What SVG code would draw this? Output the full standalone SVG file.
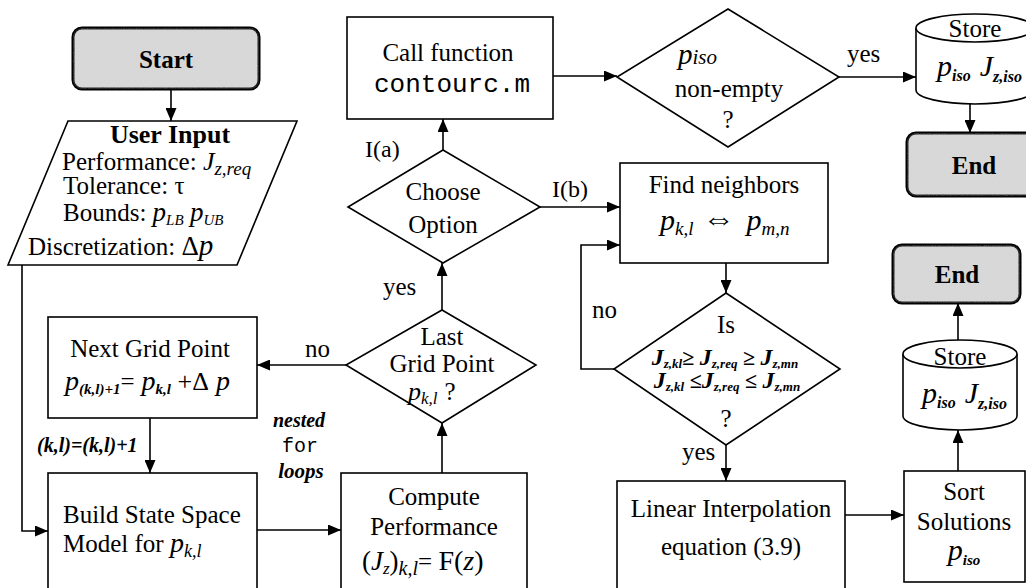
<svg xmlns="http://www.w3.org/2000/svg" width="1026" height="588" viewBox="0 0 1026 588" font-size="25">
  <defs>
    <marker id="arr" viewBox="0 0 13 11" refX="13" refY="5.5" markerWidth="13" markerHeight="11" markerUnits="userSpaceOnUse" orient="auto">
      <path d="M0,0 L13,5.5 L0,11 z" fill="#000"/>
    </marker>
    <filter id="grain" x="0" y="0" width="100%" height="100%">
      <feTurbulence type="fractalNoise" baseFrequency="0.9" numOctaves="2" seed="3" result="n"/>
      <feColorMatrix in="n" type="matrix" values="0 0 0 0 0.78  0 0 0 0 0.78  0 0 0 0 0.78  0 0 0 0.35 0" result="g"/>
      <feComposite in="g" in2="SourceGraphic" operator="in"/>
    </filter>
  </defs>
  <style>
    .box { fill: #fff; stroke: #000; stroke-width: 1.6; }
    .term { fill: #d5d5d5; stroke: #000; stroke-width: 3; }
    .edge { fill: none; stroke: #000; stroke-width: 1.6; marker-end: url(#arr); }
    .t { font-family: "Liberation Serif", "Times New Roman", serif; fill: #000; }
    .c { text-anchor: middle; }
    .b { font-weight: bold; }
    .i { font-style: italic; }
    .bi { font-style: italic; font-weight: bold; }
    .m { font-family: "Liberation Mono", "Courier New", monospace; }
  </style>
  <rect width="1026" height="588" fill="#fff"/>

  <!-- connectors -->
  <g id="connectors">
    <path class="edge" d="M171,89 V121"/>
    <path class="edge" d="M22,265 V531 H48"/>
    <path class="edge" d="M150,418 V473"/>
    <path class="edge" d="M257,530 H341"/>
    <path class="edge" d="M442,473 V423"/>
    <path class="edge" d="M346,365 H257"/>
    <path class="edge" d="M442,310 V263"/>
    <path class="edge" d="M443,150 V119"/>
    <path class="edge" d="M553,76 H617"/>
    <path class="edge" d="M839,77 H916"/>
    <path class="edge" d="M970,104 V133"/>
    <path class="edge" d="M540,207 H620"/>
    <path class="edge" d="M726,263 V293"/>
    <path class="edge" d="M614,369 H581 V245 H620"/>
    <path class="edge" d="M726,445 V481"/>
    <path class="edge" d="M845,515 H904"/>
    <path class="edge" d="M958,471 V430"/>
    <path class="edge" d="M958,340 V303"/>
    <text class="t" x="365" y="157" font-size="24">I(a)</text>
    <text class="t" x="552" y="197" font-size="24">I(b)</text>
    <text class="t" x="847" y="62">yes</text>
    <text class="t" x="383" y="295">yes</text>
    <text class="t" x="305" y="357">no</text>
    <text class="t" x="592" y="318">no</text>
    <text class="t" x="682" y="460">yes</text>
    <text class="t bi" x="37" y="452" font-size="20">(k,l)=(k,l)+1</text>
    <text class="t bi c" x="299" y="427" font-size="20">nested</text>
    <text class="t m c" x="300" y="452" font-size="20">for</text>
    <text class="t bi c" x="301" y="478" font-size="21">loops</text>
  </g>

  <!-- terminals -->
  <g id="start">
    <rect class="term" x="73" y="28" width="186" height="61" rx="9"/>
    <rect x="73" y="28" width="186" height="61" rx="9" filter="url(#grain)"/>
    <text class="t b c" x="166" y="68">Start</text>
  </g>

  <g id="user-input">
    <path class="box" d="M68,121 H297 L237,265 H8 Z"/>
    <text class="t b c" x="170" y="143" font-size="26">User Input</text>
    <text class="t" x="62" y="170">Performance: <tspan class="i" font-size="26">J</tspan><tspan class="i" font-size="19" dy="5">z,req</tspan></text>
    <text class="t" x="63" y="194">Tolerance:  τ</text>
    <text class="t" x="63" y="221">Bounds: <tspan class="i" font-size="27">p</tspan><tspan class="i" font-size="15" dy="4">LB</tspan> <tspan class="i" font-size="27" dy="-4">p</tspan><tspan class="i" font-size="15" dy="4">UB</tspan></text>
    <text class="t" x="28" y="255">Discretization: <tspan font-size="27">Δ</tspan><tspan class="i" font-size="29">p</tspan></text>
  </g>

  <g id="call-function">
    <rect class="box" x="347" y="17" width="206" height="102"/>
    <text class="t c" x="448" y="61">Call function</text>
    <text class="t m c" x="452" y="92" font-size="26">contourc.m</text>
  </g>

  <g id="piso-check">
    <path class="box" d="M728,9 L839,77 L728,147 L617,77 Z"/>
    <text class="t" x="678" y="64"><tspan class="i" font-size="29">p</tspan><tspan class="i" font-size="21">iso</tspan></text>
    <text class="t c" x="729" y="97">non-empty</text>
    <text class="t c" x="728" y="128">?</text>
  </g>

  <g id="store-top">
    <path class="box" d="M916,28 V90 A59,14 0 0 0 1034,90 V28"/>
    <ellipse class="box" cx="975" cy="28" rx="59" ry="14"/>
    <text class="t c" x="975" y="37">Store</text>
    <text class="t" x="937" y="76"><tspan class="i" font-size="30">p</tspan><tspan class="bi" font-size="16" dy="5">iso</tspan><tspan dx="9" dy="-5" class="i" font-size="30">J</tspan><tspan class="bi" font-size="16" dy="6">z,iso</tspan></text>
  </g>

  <g id="end-top">
    <rect class="term" x="907" y="133" width="134" height="63" rx="9"/>
    <rect x="907" y="133" width="134" height="63" rx="9" filter="url(#grain)"/>
    <text class="t b c" x="974" y="174">End</text>
  </g>

  <g id="choose-option">
    <path class="box" d="M443,150 L540,207 L443,263 L348,207 Z"/>
    <text class="t c" x="443" y="200">Choose</text>
    <text class="t c" x="443" y="233">Option</text>
  </g>

  <g id="find-neighbors">
    <rect class="box" x="620" y="163" width="208" height="100"/>
    <text class="t c" x="724" y="193">Find neighbors</text>
    <text class="t" x="660" y="230"><tspan class="i" font-size="30">p</tspan><tspan class="i" font-size="19" dy="5">k,l</tspan><tspan dx="9" dy="-6" font-size="32" font-weight="bold">⇔</tspan><tspan dx="12" dy="1" class="i" font-size="30">p</tspan><tspan class="i" font-size="19" dy="5">m,n</tspan></text>
  </g>

  <g id="last-grid-point">
    <path class="box" d="M442,310 L536,365 L442,423 L346,365 Z"/>
    <text class="t c" x="442" y="345">Last</text>
    <text class="t c" x="442" y="372">Grid Point</text>
    <text class="t" x="408" y="400"><tspan class="i" font-size="26">p</tspan><tspan class="i" font-size="17" dy="4">k,l</tspan><tspan dx="7" dy="-4">?</tspan></text>
  </g>

  <g id="next-grid-point">
    <rect class="box" x="48" y="317" width="209" height="101"/>
    <text class="t c" x="150" y="357">Next Grid Point</text>
    <text class="t" x="65" y="390"><tspan class="i" font-size="28">p</tspan><tspan class="bi" font-size="15" dy="4">(k,l)+1</tspan><tspan dy="-4">=</tspan><tspan class="i" font-size="28"> p</tspan><tspan class="bi" font-size="15" dy="4">k,l</tspan><tspan dy="-4" font-size="26"> +Δ</tspan><tspan class="i" font-size="28"> p</tspan></text>
  </g>

  <g id="neighbor-test">
    <path class="box" d="M726,293 L840,369 L726,445 L614,369 Z"/>
    <text class="t c" x="726" y="333">Is</text>
    <text class="t bi c" x="725" y="365"><tspan font-size="24">J</tspan><tspan font-size="13" dy="3">z,kl</tspan><tspan font-style="normal" font-size="22" dy="-3">≥ </tspan><tspan font-size="24">J</tspan><tspan font-size="13" dy="3">z,req</tspan><tspan font-style="normal" font-size="22" dy="-3"> ≥ </tspan><tspan font-size="24">J</tspan><tspan font-size="13" dy="3">z,mn</tspan></text>
    <text class="t bi c" x="727" y="388"><tspan font-size="24">J</tspan><tspan font-size="13" dy="3">z,kl</tspan><tspan font-style="normal" font-size="22" dy="-3"> ≤</tspan><tspan font-size="24">J</tspan><tspan font-size="13" dy="3">z,req</tspan><tspan font-style="normal" font-size="22" dy="-3"> ≤ </tspan><tspan font-size="24">J</tspan><tspan font-size="13" dy="3">z,mn</tspan></text>
    <text class="t c" x="726" y="427">?</text>
  </g>

  <g id="end-bottom">
    <rect class="term" x="893" y="245" width="127" height="58" rx="9"/>
    <rect x="893" y="245" width="127" height="58" rx="9" filter="url(#grain)"/>
    <text class="t b c" x="957" y="283">End</text>
  </g>

  <g id="store-bottom">
    <path class="box" d="M903,354 V416 A57,14 0 0 0 1017,416 V354"/>
    <ellipse class="box" cx="960" cy="354" rx="57" ry="14"/>
    <text class="t c" x="960" y="365">Store</text>
    <text class="t" x="922" y="403"><tspan class="i" font-size="30">p</tspan><tspan class="bi" font-size="16" dy="5">iso</tspan><tspan dx="9" dy="-5" class="i" font-size="30">J</tspan><tspan class="bi" font-size="16" dy="6">z,iso</tspan></text>
  </g>

  <g id="build-model">
    <rect class="box" x="48" y="473" width="209" height="130"/>
    <text class="t" x="63" y="523">Build State Space</text>
    <text class="t" x="63" y="552">Model for <tspan class="i" font-size="28">p</tspan><tspan class="i" font-size="18" dy="5">k,l</tspan></text>
  </g>

  <g id="compute-performance">
    <rect class="box" x="341" y="473" width="186" height="130"/>
    <text class="t c" x="434" y="505">Compute</text>
    <text class="t c" x="434" y="535">Performance</text>
    <text class="t" x="362" y="570"><tspan font-size="27">(</tspan><tspan class="i" font-size="27">J</tspan><tspan class="i" font-size="17" dy="4">z</tspan><tspan font-size="27" dy="-4">)</tspan><tspan class="i" font-size="20" dy="5">k,l</tspan><tspan dy="-5">= </tspan><tspan font-size="28">F(</tspan><tspan class="i" font-size="28">z</tspan><tspan font-size="28">)</tspan></text>
  </g>

  <g id="linear-interpolation">
    <rect class="box" x="617" y="481" width="228" height="122"/>
    <text class="t c" x="731" y="517">Linear Interpolation</text>
    <text class="t c" x="731" y="555">equation (3.9)</text>
  </g>

  <g id="sort-solutions">
    <rect class="box" x="904" y="471" width="121" height="111"/>
    <text class="t c" x="964" y="500">Sort</text>
    <text class="t c" x="964" y="530">Solutions</text>
    <text class="t c" x="964" y="560"><tspan class="i" font-size="30">p</tspan><tspan class="bi" font-size="15" dy="5">iso</tspan></text>
  </g>
</svg>
